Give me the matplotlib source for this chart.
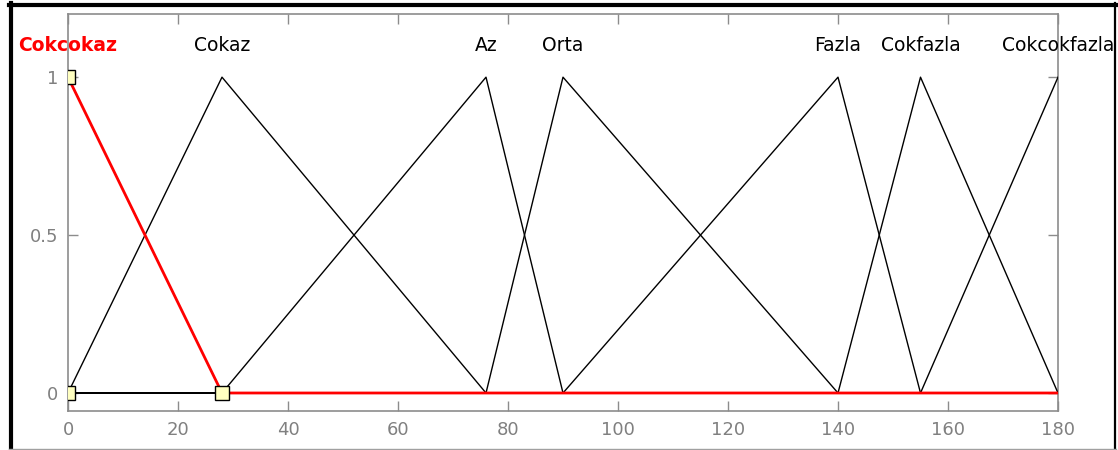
import numpy as np
import matplotlib
matplotlib.use("Agg")
import matplotlib.pyplot as plt
from matplotlib.lines import Line2D

# Membership functions (triangular: a, b, c)
names = ["Cokcokaz", "Cokaz", "Az", "Orta", "Fazla", "Cokfazla", "Cokcokfazla"]
params = [
    [0, 0, 28],
    [0, 28, 76],
    [28, 76, 90],
    [76, 90, 140],
    [90, 140, 155],
    [140, 155, 180],
    [155, 180, 180],
]
selected = 0
x_range = [0, 180]
xticks = [0, 20, 40, 60, 80, 100, 120, 140, 160, 180]
yticks = [0, 0.5, 1]

W, H = 1118, 450
fig = plt.figure(figsize=(W / 100, H / 100), dpi=100)
fig.patch.set_facecolor("white")

ax = fig.add_axes([68 / W, 1 - 411 / H, (1058 - 68) / W, (411 - 14) / H])

x = np.linspace(x_range[0], x_range[1], 1801)


def trimf(xv, p):
    a, b, c = p
    y = np.zeros_like(xv, dtype=float)
    if b > a:
        m = (xv >= a) & (xv <= b)
        y[m] = (xv[m] - a) / (b - a)
    if c > b:
        m = (xv >= b) & (xv <= c)
        y[m] = (c - xv[m]) / (c - b)
    y[xv == b] = 1.0
    return y


gray = "#8c8c8c"
for i, (nm, p) in enumerate(zip(names, params)):
    y = trimf(x, p)
    if i == selected:
        continue
    ax.plot(x, y, color="black", lw=1.0, zorder=3)
    ax.text(p[1], 1.1, nm, ha="center", va="center", fontsize=13.5,
            color="black", family="DejaVu Sans")

# selected MF in red
p = params[selected]
ys = trimf(x, p)
ax.plot(x, ys, color="red", lw=2.0, zorder=4)
ax.plot([p[0], p[1], p[2]], [0, 1, 0], ls="none", marker="s", ms=10,
        mfc="#ffffc0", mec="black", mew=1.0, zorder=5)
ax.text(p[1], 1.1, names[selected], ha="center", va="center", fontsize=13.5,
        color="red", fontweight="bold", family="DejaVu Sans")

ax.set_xlim(x_range)
ax.set_ylim(-0.057, 1.2)
ax.set_xticks(xticks)
ax.set_yticks(yticks)
ax.set_yticklabels(["0", "0.5", "1"])
ax.tick_params(direction="in", length=7, width=1, color=gray, labelcolor="#808080",
               labelsize=13, top=True, right=True, pad=7)
for s in ax.spines.values():
    s.set_color(gray)
    s.set_linewidth(1.2)

# outer frame
def hline(y0, x0, x1, color, lw):
    fig.add_artist(Line2D([x0 / W, x1 / W], [1 - y0 / H, 1 - y0 / H],
                          color=color, lw=lw, transform=fig.transFigure))


def vline(x0, y0, y1, color, lw):
    fig.add_artist(Line2D([x0 / W, x0 / W], [1 - y0 / H, 1 - y1 / H],
                          color=color, lw=lw, transform=fig.transFigure))


hline(4.5, 9, 1116, "black", 3.0)
vline(10.8, 3, 450, "black", 3.0)
vline(1115, 3, 450, "black", 1.6)
hline(448.5, 9, 1116, "#a0a0a0", 1.0)

fig.savefig("out.png", dpi=100)
